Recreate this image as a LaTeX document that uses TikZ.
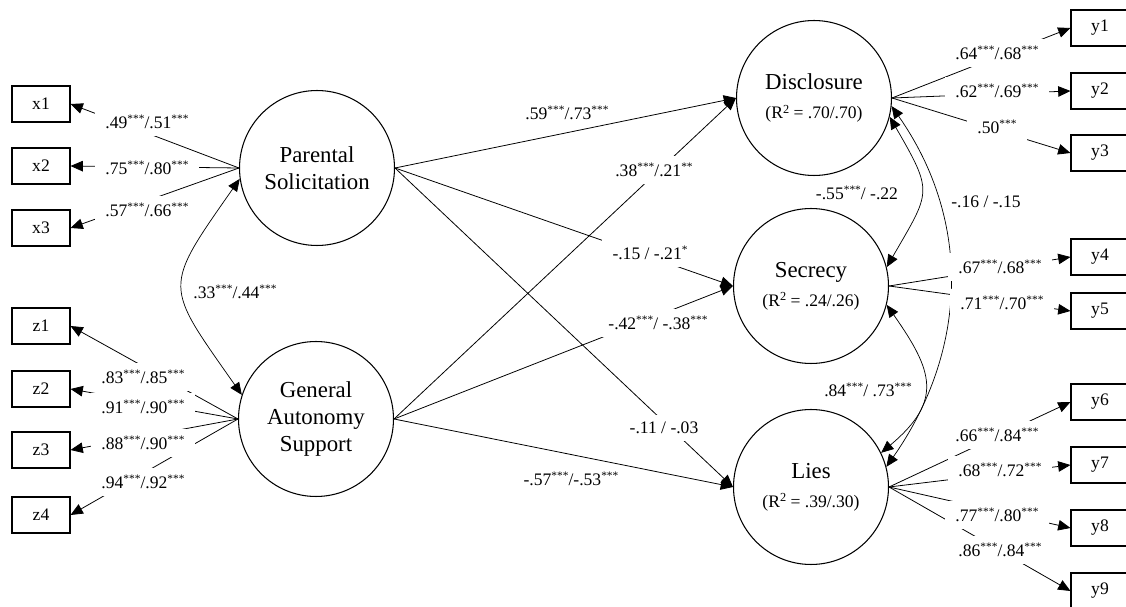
\documentclass[tikz,border=0pt]{standalone}
\usepackage{fontspec}
\setmainfont{Liberation Serif}
\usetikzlibrary{arrows.meta}

\newcommand{\sig}[1]{\raisebox{0.33em}{\fontsize{6.5}{6.5}\selectfont #1}}
\newcommand{\rsq}[1]{{\fontsize{10}{12}\selectfont(R\raisebox{0.3em}{\fontsize{7}{7}\selectfont 2} = #1)}}

\begin{document}
\begin{tikzpicture}
[
  x=0.02cm, y=-0.02cm,
  latent/.style={draw, circle, line width=0.6pt, minimum size=3.1cm, inner sep=0pt,
    align=center, font=\fontsize{13}{15.5}\selectfont},
  obs/.style={draw, rectangle, line width=0.6pt, minimum width=1.16cm, minimum height=0.72cm,
    inner sep=0pt, font=\fontsize{10}{12}\selectfont},
  coef/.style={font=\fontsize{10}{12}\selectfont, inner sep=1pt},
  gap/.style={coef, fill=white, inner xsep=6pt, inner ysep=4pt},
  reg/.style={-{Triangle[length=7pt,width=6pt]}, line width=0.45pt},
  cor/.style={{Triangle[length=7pt,width=6pt]}-{Triangle[length=7pt,width=6pt]}, line width=0.4pt}
]
\useasboundingbox (0,0) rectangle (1126,607);
\clip (0,0) rectangle (1126,607);

% latent variables
\node[latent] (ps) at (317,168) {Parental\\Solicitation};
\node[latent] (gas) at (316,419) {General\\Autonomy\\Support};
\node[latent] (dis) at (814,98) {Disclosure\\[1pt]\rsq{.70/.70}};
\node[latent] (sec) at (811,286) {Secrecy\\[1pt]\rsq{.24/.26}};
\node[latent] (lies) at (811,487) {Lies\\[1pt]\rsq{.39/.30}};

% indicators
\node[obs] (x1) at (41,104) {x1};
\node[obs] (x2) at (41,166) {x2};
\node[obs] (x3) at (41,228) {x3};
\node[obs] (z1) at (41,326) {z1};
\node[obs] (z2) at (41,389) {z2};
\node[obs] (z3) at (41,450) {z3};
\node[obs] (z4) at (41,515) {z4};

\node[obs] (y1) at (1100,28) {y1};
\node[obs] (y2) at (1100,91) {y2};
\node[obs] (y3) at (1100,153) {y3};
\node[obs] (y4) at (1100,257) {y4};
\node[obs] (y5) at (1100,311) {y5};
\node[obs] (y6) at (1100,402) {y6};
\node[obs] (y7) at (1100,465) {y7};
\node[obs] (y8) at (1100,528) {y8};
\node[obs] (y9) at (1100,591) {y9};

% loadings
\foreach \b in {x1,x2,x3} \draw[reg] (ps.west) -- (\b.east);
\foreach \b in {z1,z2,z3,z4} \draw[reg] (gas.west) -- (\b.east);
\foreach \b in {y1,y2,y3} \draw[reg] (dis.east) -- (\b.west);
\foreach \b in {y4,y5} \draw[reg] (sec.east) -- (\b.west);
\foreach \b in {y6,y7,y8,y9} \draw[reg] (lies.east) -- (\b.west);

% structural paths
\draw[reg] (ps.east) -- (dis.west);
\draw[reg] (ps.east) -- (sec.west);
\draw[reg] (ps.east) -- (lies.west);
\draw[reg] (gas.east) -- (dis.west);
\draw[reg] (gas.east) -- (sec.west);
\draw[reg] (gas.east) -- (lies.west);

% covariances
\draw[cor] (ps.188) to[out=235, in=125, looseness=1.6] (gas.162);
\draw[cor] (dis.-14) to[out=-60, in=60, looseness=1.5] (sec.14);
\draw[cor] (sec.-14) to[out=-55, in=40, looseness=1.4] (lies.26);
\draw[cor] (dis.-6) to[out=-55, in=55] (lies.15);

% coefficients
\node[gap] (lx1) at (147,122) {.49\sig{***}/.51\sig{***}};
\node[gap] (lx2) at (147,168) {.75\sig{***}/.80\sig{***}};
\node[gap] (lx3) at (147,210) {.57\sig{***}/.66\sig{***}};
\node[coef] (cpg) at (235,292) {.33\sig{***}/.44\sig{***}};
\node[gap] (lz1) at (143,377) {.83\sig{***}/.85\sig{***}};
\node[gap] (lz2) at (143,407) {.91\sig{***}/.90\sig{***}};
\node[gap] (lz3) at (143,443) {.88\sig{***}/.90\sig{***}};
\node[gap] (lz4) at (143,482) {.94\sig{***}/.92\sig{***}};

\node[coef] (bpd) at (567,113) {.59\sig{***}/.73\sig{***}};
\node[gap] (bgd) at (654,170) {.38\sig{***}/.21\sig{**}};
\node[gap] (bps) at (650,253) {-.15 / -.21\sig{*}};
\node[gap] (bgs) at (658,323) {-.42\sig{***}/ -.38\sig{***}};
\node[gap] (bpl) at (664,428) {-.11 / -.03};
\node[coef] (bgl) at (571,479) {-.57\sig{***}/-.53\sig{***}};

\node[coef] (cds) at (857,193) {-.55\sig{***}/ -.22};
\node[coef] (cdl) at (986,202) {-.16 / -.15};
\node[coef] (csl) at (868,390) {.84\sig{***}/ .73\sig{***}};

\node[gap] (ly1) at (997,53) {.64\sig{***}/.68\sig{***}};
\node[gap] (ly2) at (997,91) {.62\sig{***}/.69\sig{***}};
\node[gap] (ly3) at (997,127) {.50\sig{***}};
\node[gap] (ly4) at (1000,267) {.67\sig{***}/.68\sig{***}};
\node[gap] (ly5) at (1002,303) {.71\sig{***}/.70\sig{***}};
\node[gap] (ly6) at (997,435) {.66\sig{***}/.84\sig{***}};
\node[gap] (ly7) at (1000,470) {.68\sig{***}/.72\sig{***}};
\node[gap] (ly8) at (997,515) {.77\sig{***}/.80\sig{***}};
\node[gap] (ly9) at (1000,550) {.86\sig{***}/.84\sig{***}};
\end{tikzpicture}
\end{document}
